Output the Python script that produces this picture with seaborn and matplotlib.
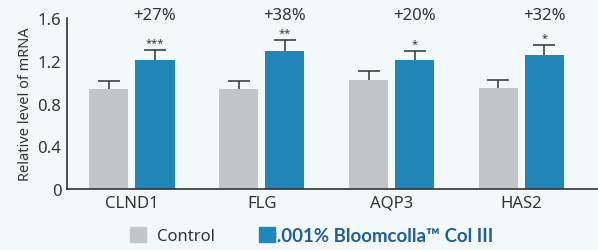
import pandas as pd
import numpy as np
import seaborn as sns
import matplotlib.pyplot as plt
from matplotlib.patches import Rectangle

# Values
genes = ["CLND1", "FLG", "AQP3", "HAS2"]
control = [0.935, 0.935, 1.02, 0.945]
treated = [1.205, 1.29, 1.205, 1.25]
control_err = [0.08, 0.075, 0.08, 0.075]
treated_err = [0.095, 0.105, 0.09, 0.095]
increase = ["+27%", "+38%", "+20%", "+32%"]
signif = ["***", "**", "*", "*"]
groups = ["Control", "0.001% Bloomcolla\u2122 Col III"]
y_ticks = [0, 0.4, 0.8, 1.2, 1.6]
y_tick_labels = ["0", "0.4", "0.8", "1.2", "1.6"]

bg = "#f3f8fb"
gray = "#c3c6c9"
blue = "#2386b8"
dark = "#333333"

df = pd.DataFrame({
    "gene": genes * 2,
    "group": [groups[0]] * 4 + [groups[1]] * 4,
    "value": control + treated,
})

sns.set_style("white")
plt.rcParams["font.family"] = ["Noto Sans", "DejaVu Sans"]

fig = plt.figure(figsize=(5.98, 2.51), dpi=100, facecolor=bg)
ax = fig.add_axes([0.112, 0.243, 0.888, 0.681], facecolor=bg)

sns.barplot(data=df, x="gene", y="value", hue="group", order=genes,
            hue_order=groups, palette=[gray, blue], saturation=1, width=0.71,
            gap=0.15, errorbar=None, legend=False, ax=ax, linewidth=0)

# one-sided error bars on top of each bar (drop the lower cap)
for cont, vals, errs in zip(ax.containers, [control, treated], [control_err, treated_err]):
    xs = [p.get_x() + p.get_width() / 2 for p in cont.patches]
    eb = ax.errorbar(xs, vals, yerr=[np.zeros(len(errs)), errs], fmt="none",
                     ecolor=dark, elinewidth=1.1, capsize=7.9, capthick=1.1, zorder=3)
    eb[1][0].remove()

# stars and percentage labels over the treated bars
xs_t = [p.get_x() + p.get_width() / 2 for p in ax.containers[1].patches]
for x, v, e, s, pct in zip(xs_t, treated, treated_err, signif, increase):
    ax.annotate(s, (x, v + e), xytext=(0, 1.5), textcoords="offset points",
                ha="center", va="bottom", fontsize=8, color=dark)
    ax.text(x, 1.02, pct, transform=ax.get_xaxis_transform(), ha="center",
            va="center", fontsize=12, color=dark, clip_on=False)

ax.set_ylim(0, 1.6)
ax.set_xlim(-0.50, 3.59)
ax.set_yticks(y_ticks)
ax.set_yticklabels(y_tick_labels)
ax.set_xlabel("")
ax.set_ylabel("Relative level of mRNA", fontsize=10.5, color=dark, labelpad=3)
ax.tick_params(axis="both", length=0, labelsize=12, labelcolor=dark, pad=4)
sns.despine(ax=ax)
for side in ["left", "bottom"]:
    ax.spines[side].set_color(dark)
    ax.spines[side].set_linewidth(1.2)

# legend drawn by hand (square overlaps the start of the second label)
W, H = 598, 251
def px_rect(x0, x1, y0, y1, color):
    fig.patches.append(Rectangle((x0 / W, 1 - y1 / H), (x1 - x0) / W, (y1 - y0) / H,
                                 transform=fig.transFigure, color=color, zorder=5))

px_rect(130, 146, 228, 243, gray)
fig.text(157 / W, 1 - 237 / H, groups[0], fontsize=12, color=dark, va="center")
px_rect(259, 275, 228, 243, blue)
fig.text(266 / W, 1 - 237 / H, groups[1], fontsize=13.4, color="#1f5e98",
         fontweight="bold", family=["Lato", "DejaVu Sans"], va="center", zorder=3)

fig.savefig("out.png", dpi=100, facecolor=bg)
